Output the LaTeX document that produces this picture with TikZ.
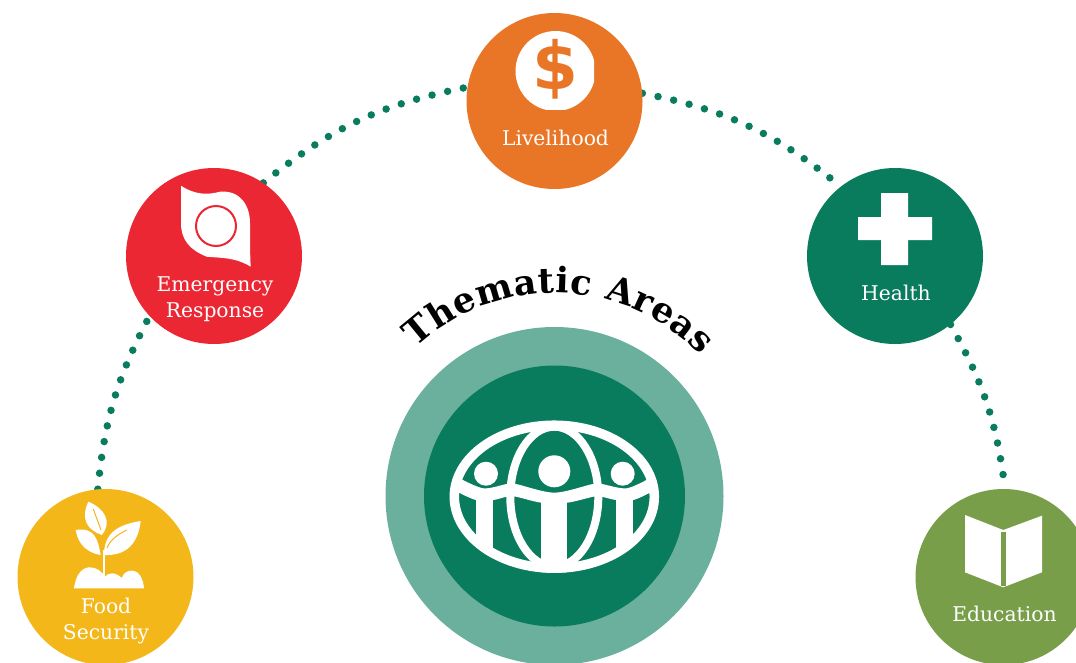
\documentclass[tikz,border=0pt]{standalone}
\usepackage{fontspec}
\setmainfont{DejaVu Serif}
\usetikzlibrary{backgrounds,decorations.text}
\definecolor{areagreen}{HTML}{097C5E}
\definecolor{areapale}{HTML}{6BB09D}
\definecolor{areaorange}{HTML}{E97527}
\definecolor{areared}{HTML}{EA2733}
\definecolor{areayellow}{HTML}{F4B71A}
\definecolor{areaolive}{HTML}{789E49}
\newfontfamily\dollarfont{DejaVu Sans}
\tikzset{
    area/.style={circle, minimum size=176pt, inner sep=0pt, fill=#1},
    arealabel/.style={text=white, align=center, inner sep=0pt, font=\fontsize{20.3}{25.5}\selectfont},
    trail/.style={draw=areagreen, line width=7.5pt, line cap=round, dash pattern=on 0pt off 16pt},
}
\begin{document}
\begin{tikzpicture}
        [
            x=1pt, y=-1pt,
        ]
        \path[use as bounding box, clip] (0,0) rectangle (1076,662);

        \node[circle, minimum size=338pt, inner sep=0pt, fill=areapale] (outer) at (554.5,496) {};
        \node[circle, minimum size=261pt, inner sep=0pt, fill=areagreen] (inner) at (554.5,496) {};

        \node[area=areayellow] (food) at (105.5,577) {};
        \node[area=areared] (emergency) at (214,256) {};
        \node[area=areaorange] (livelihood) at (554.5,101) {};
        \node[area=areagreen] (health) at (895,256) {};
        \node[area=areaolive] (education) at (1003.5,577) {};

        \begin{scope}[on background layer]
            \draw[trail] (food.95) to[bend left=11] (emergency.223);
            \draw[trail] (emergency.56) to[bend left=14] (livelihood.171);
            \draw[trail] (livelihood.5) to[bend left=14] (health.128);
            \draw[trail] (health.-51) to[bend left=11] (education.89);
        \end{scope}

        \node[arealabel] (foodtext) at (106,621) {Food\\Security};
        \node[arealabel] (emergencytext) at (215,299) {Emergency\\Response};
        \node[arealabel] (livelihoodtext) at (555.5,138) {Livelihood};
        \node[arealabel] (healthtext) at (896,293) {Health};
        \node[arealabel] (educationtext) at (1004.5,614) {Education};

        \path[decorate, decoration={text along path, text align=fit to path,
            text={|\fontsize{35}{35}\selectfont\bfseries|Thematic Areas}}]
            (outer.center) ++(227:203) arc (227:316:203);

        % globe
        \begin{scope}
            \clip (554.3,496.7) ellipse (104.5 and 76);
            \fill[white] (476,495) rectangle (493.3,575);
            \fill[white] (541.3,495) rectangle (567.3,575);
            \fill[white] (616,495) rectangle (633.3,575);
        \end{scope}
        \draw[white, line width=9.5pt] (554.3,496.7) ellipse (100 and 71.5);
        \draw[white, line width=8pt] (554.3,496.7) ellipse (44 and 70);
        \fill[white] plot[smooth] coordinates {(459,478) (483.3,488.3) (506.7,484) (516,484) (554.3,492.7) (592.7,484) (601.7,484) (626.7,488.3) (650,478)}
            -- plot[smooth] coordinates {(650,492.7) (633.3,500) (616,500) (601.7,496.7) (593.3,496.7) (567.3,502.7) (541.3,502.7) (516,496.7) (506.7,496.7) (493.3,500) (476,500) (459,492.7)} -- cycle;
        \fill[white] (486,473.7) circle (12);
        \fill[white] (554.3,471.3) circle (16);
        \fill[white] (622.7,473.7) circle (12);

        % dollar
        \begin{scope}
            \clip (510,25) rectangle (594,109);
            \fill[white] (555.5,71) circle (40);
        \end{scope}
        \node[text=areaorange, inner sep=0pt, font=\dollarfont\bfseries\fontsize{66}{66}\selectfont] (dollar) at (555,69) {\$};

        % leaf
        \fill[white] (181,185.7) .. controls (195,195) and (208,195) .. (220,191.7)
            .. controls (240,190) and (250,205) .. (250,223.3)
            .. controls (250,240) and (250,255) .. (250.7,266.7)
            .. controls (235,257) and (220,258) .. (206.7,256.7)
            .. controls (190,250) and (181,240) .. (181,223.3) -- cycle;
        \draw[areared, line width=2pt] (216,226) circle (20);

        % cross
        \fill[white] (881,193) -- (908,193) -- (908,217) -- (932,217) -- (932,240) -- (908,240)
            -- (908,265) -- (881,265) -- (881,240) -- (858,240) -- (858,217) -- (881,217) -- cycle;

        % book
        \fill[white] (965,515) -- (1003.3,530) -- (1042,515.7) -- (1042,572.3) -- (1003.3,587.3) -- (965,572.3) -- cycle;
        \fill[areaolive] (1001,531.7) rectangle (1006,586);

        % plant
        \fill[white] (88.3,501.7) .. controls (80,520) and (88,530) .. (101.7,535)
            .. controls (113,522) and (104,508) .. (88.3,501.7) -- cycle;
        \fill[white] (75.7,530) .. controls (95,526.7) and (98,540) .. (100.7,555)
            .. controls (88,553) and (78,545) .. (75.7,530) -- cycle;
        \fill[white] (140.7,521) .. controls (115,525) and (104,535) .. (104,555)
            .. controls (125,556) and (138,545) .. (140.7,521) -- cycle;
        \draw[areayellow, line width=1pt] (93.3,509) -- (101,530);
        \draw[areayellow, line width=1pt] (107,548) .. controls (110,540) and (118,534) .. (127,530);
        \draw[white, line width=2pt] (104,550) -- (104,578);
        \fill[white] (74,588.3) .. controls (76,573) and (83,567.3) .. (90,567.3)
            .. controls (97,567.3) and (102,572) .. (105,576.7)
            .. controls (108,572) and (116,572) .. (121.7,578)
            .. controls (124,572) and (128,570.7) .. (131.7,570.7)
            .. controls (139,570.7) and (143,578) .. (144,588.3) -- cycle;
    \end{tikzpicture}
\end{document}
